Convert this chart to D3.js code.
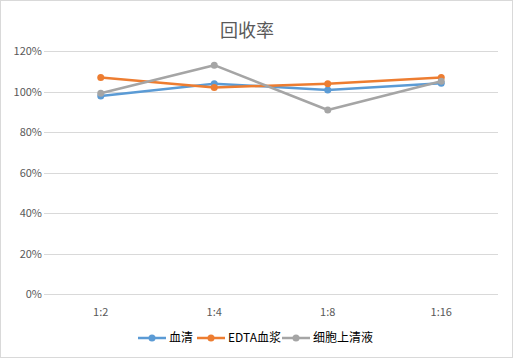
<!DOCTYPE html>
<html><head><meta charset="utf-8">
<script src="https://cdn.jsdelivr.net/npm/d3@7"></script>
<style>body{margin:0;background:#fff}svg{display:block}</style>
</head><body>
<script>
const categories = ["1:2","1:4","1:8","1:16"];
const seriesNames = ["血清","EDTA血浆","细胞上清液"];
const serum = [0.978, 1.039, 1.008, 1.041];
const edta = [1.069, 1.020, 1.039, 1.069];
const supernatant = [0.992, 1.130, 0.909, 1.051];
const yTicks = [0,0.2,0.4,0.6,0.8,1.0,1.2];
const colors = ["#5B9BD5","#ED7D31","#A5A5A5"];
const title = "回收率";

const W=513,H=358;
const svg=d3.select("body").append("svg").attr("width",W).attr("height",H);
svg.append("rect").attr("x",0.5).attr("y",0.5).attr("width",W-1).attr("height",H-1).attr("fill","#fff").attr("stroke","#D9D9D9");
const font="'Microsoft YaHei','Noto Sans CJK SC',sans-serif";
svg.append("text").attr("x",247).attr("y",37).attr("text-anchor","middle").attr("font-family",font).attr("font-size",18).attr("fill","#595959").text(title);

const x=d3.scaleBand().domain(categories).range([44,498]);
const y=d3.scaleLinear().domain([0,1.2]).range([294.3,51]);

const grid=svg.append("g");
yTicks.forEach(t=>{
  grid.append("line").attr("x1",44).attr("x2",498).attr("y1",Math.round(y(t))+0.5).attr("y2",Math.round(y(t))+0.5).attr("stroke","#D9D9D9").attr("stroke-width",1);
});
const yAxis=d3.axisLeft(y).tickValues(yTicks).tickFormat(d3.format(".0%")).tickSize(0).tickPadding(6);
const ga=svg.append("g").attr("transform","translate(44,0)").call(yAxis);
ga.select(".domain").remove();
ga.selectAll("text").attr("font-family",font).attr("font-size",11).attr("fill","#595959").attr("x",-2);

const xAxis=d3.axisBottom(x).tickSize(0).tickPadding(8);
const gx=svg.append("g").attr("transform","translate(0,300)").call(xAxis);
gx.select(".domain").remove();
gx.selectAll("text").attr("font-family",font).attr("font-size",11).attr("fill","#595959");

const data=[serum,edta,supernatant];
const line=d3.line().x((d,i)=>x(categories[i])+x.bandwidth()/2).y(d=>y(d));
data.forEach((s,k)=>{
  svg.append("path").datum(s).attr("d",line).attr("fill","none").attr("stroke",colors[k]).attr("stroke-width",2.5).attr("stroke-linejoin","round");
  svg.selectAll(null).data(s).enter().append("circle")
    .attr("cx",(d,i)=>x(categories[i])+x.bandwidth()/2).attr("cy",d=>y(d)).attr("r",3.5).attr("fill",colors[k]);
});

const legendX=[138,197,282];
const lg=svg.append("g");
seriesNames.forEach((n,k)=>{
  const lx=legendX[k];
  lg.append("line").attr("x1",lx).attr("x2",lx+28).attr("y1",338).attr("y2",338).attr("stroke",colors[k]).attr("stroke-width",2.5);
  lg.append("circle").attr("cx",lx+14).attr("cy",338).attr("r",3.5).attr("fill",colors[k]);
  lg.append("text").attr("x",lx+31).attr("y",342).attr("font-family",font).attr("font-size",12).attr("fill","#000").text(n);
});
</script>
</body></html>
